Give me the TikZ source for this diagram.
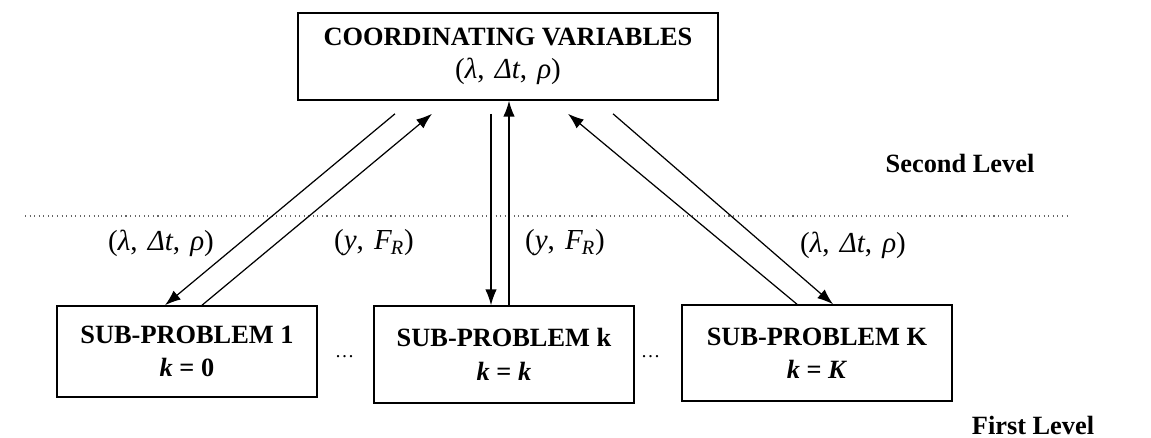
\documentclass[tikz,border=0pt]{standalone}
\usepackage{fontspec}
\setmainfont{Liberation Serif}
\usetikzlibrary{arrows.meta}
\newcommand{\coordvars}{(\textit{λ},\hspace{0.35em}\textit{Δt},\hspace{0.35em}\textit{ρ})}
\newcommand{\respvars}{(\textit{y},\hspace{0.35em}\textit{F}\textsubscript{\kern-0.05em\textit{R}})}
\begin{document}
\begin{tikzpicture}[x=0.02cm,y=-0.02cm,
  box/.style={draw,line width=0.9pt,align=center,inner sep=0pt,font=\fontsize{15}{19}\selectfont\bfseries},
  arr/.style={line width=0.7pt,-{Latex[length=9pt,width=6.5pt]}},
  lab/.style={font=\fontsize{16.5}{19}\selectfont},
  lvl/.style={font=\fontsize{15}{19}\selectfont\bfseries},
  dotsty/.style={font=\fontsize{11}{13}\selectfont\itshape},
  sep/.style={dotted,line width=0.6pt,black!60}]
\useasboundingbox (0,0) rectangle (1151,437);
% boxes
\node[box,minimum width=8.4cm,minimum height=1.74cm] (top) at (508,56.5)
  {COORDINATING VARIABLES\\ {\mdseries\fontsize{16.5}{19}\selectfont\coordvars}};
\node[box,minimum width=5.2cm,minimum height=1.82cm] (sp1) at (187,351.5)
  {SUB-PROBLEM 1\\ \textit{k} = 0};
\node[box,minimum width=5.2cm,minimum height=1.94cm] (spk) at (504,354.5)
  {SUB-PROBLEM k\\ \textit{k} = \textit{k}};
\node[box,minimum width=5.4cm,minimum height=1.92cm] (spK) at (817,353)
  {SUB-PROBLEM K\\ \textit{k} = \textit{K}};
% dots between boxes
\node[dotsty] (d1) at (345,357) {…};
\node[dotsty] (d2) at (651,357) {…};
% level separator
\coordinate (sepL) at (25,216);
\coordinate (sepR) at (1071,216);
\draw[sep] (sepL) -- (sepR);
\node[lvl] (second) at (960,163) {Second Level};
\node[lvl] (first) at (1033,425) {First Level};
% connectors
\draw[arr] ([shift={(-113,13)}]top.south) -- ([shift={(-22,0)}]sp1.north);
\draw[arr] ([shift={(15,0)}]sp1.north) -- ([shift={(-76,13)}]top.south);
\draw[arr] ([shift={(-17,13)}]top.south) -- ([shift={(-13,0)}]spk.north);
\draw[arr] ([shift={(5,0)}]spk.north) -- ([shift={(1,0)}]top.south);
\draw[arr] ([shift={(-20,0)}]spK.north) -- ([shift={(60,13)}]top.south);
\draw[arr] ([shift={(105,13)}]top.south) -- ([shift={(16,0)}]spK.north);
% labels
\node[lab] (l1) at (161,243) {\coordvars};
\node[lab] (l2) at (374,243) {\respvars};
\node[lab] (l3) at (565,243) {\respvars};
\node[lab] (l4) at (853,245) {\coordvars};
\end{tikzpicture}
\end{document}
